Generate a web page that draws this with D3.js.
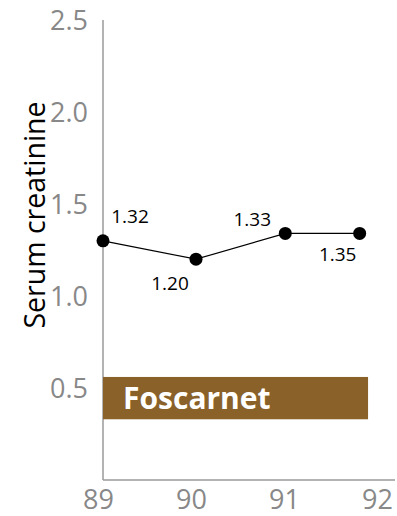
<!DOCTYPE html>
<html><head><meta charset="utf-8">
<script src="https://cdn.jsdelivr.net/npm/d3@7"></script>
<style>body{margin:0;background:#fff}svg{display:block}text{font-family:"Open Sans",sans-serif}</style>
</head><body>
<svg id="c" width="397" height="516"></svg>
<script>
const years = [89, 90, 90.96, 91.76];
const values = [1.30, 1.20, 1.34, 1.34];
const valueLabels = ["1.32", "1.20", "1.33", "1.35"];
const labelDx = [27, -26, -33, -22];
const labelDy = [-25, 24, -14, 21];
const yTicks = [0.5, 1.0, 1.5, 2.0, 2.5];
const xTicks = [89, 90, 91, 92];
const drug = {name: "Foscarnet", start: 89, end: 91.85, lo: 0.33, hi: 0.56};
const yTitle = "Serum creatinine";

const svg = d3.select("#c");
const x = d3.scaleLinear().domain([89, 92]).range([103, 382]);
const y = d3.scaleLinear().domain([0, 2.5]).range([480, 20]);

// axes lines
svg.append("line").attr("x1", x(89)).attr("x2", x(89)).attr("y1", y(2.5)).attr("y2", y(0))
  .attr("stroke", "#9a9a9a").attr("stroke-width", 1.5);
svg.append("line").attr("x1", x(89)).attr("x2", 395).attr("y1", y(0)).attr("y2", y(0))
  .attr("stroke", "#9a9a9a").attr("stroke-width", 1.5);

// y tick labels
svg.selectAll(".yt").data(yTicks).enter().append("text")
  .attr("x", 88).attr("y", d => y(d)).attr("dy", "0.36em")
  .attr("text-anchor", "end").attr("fill", "#888").attr("font-size", 27)
  .text(d => d.toFixed(1));

// x tick labels
svg.selectAll(".xt").data(xTicks).enter().append("text")
  .attr("x", d => x(d) - 4.5).attr("y", 509)
  .attr("text-anchor", "middle").attr("fill", "#888").attr("font-size", 27)
  .text(d => d);

// y title
svg.append("text").attr("transform", "translate(45,215) rotate(-90)")
  .attr("text-anchor", "middle").attr("fill", "#000").attr("font-size", 28.5)
  .text(yTitle);

// drug bar
svg.append("rect").attr("x", x(drug.start)).attr("width", x(drug.end) - x(drug.start))
  .attr("y", y(drug.hi)).attr("height", y(drug.lo) - y(drug.hi)).attr("fill", "#8a6128");
svg.append("text").attr("x", x(drug.start) + 20).attr("y", 408.5)
  .attr("fill", "#fff").attr("font-size", 30).attr("font-weight", "bold")
  .text(drug.name);

// line
const pts = years.map((d, i) => [x(d), y(values[i])]);
svg.append("path").attr("d", d3.line()(pts)).attr("fill", "none").attr("stroke", "#000").attr("stroke-width", 1.2);
svg.selectAll(".pt").data(pts).enter().append("circle")
  .attr("cx", d => d[0]).attr("cy", d => d[1]).attr("r", 6.5).attr("fill", "#000");
svg.selectAll(".vl").data(pts).enter().append("text")
  .attr("x", (d, i) => d[0] + labelDx[i]).attr("y", (d, i) => d[1] + labelDy[i]).attr("dy", "0.36em")
  .attr("text-anchor", "middle").attr("font-size", 19).attr("fill", "#000")
  .text((d, i) => valueLabels[i]);
</script>
</body></html>
